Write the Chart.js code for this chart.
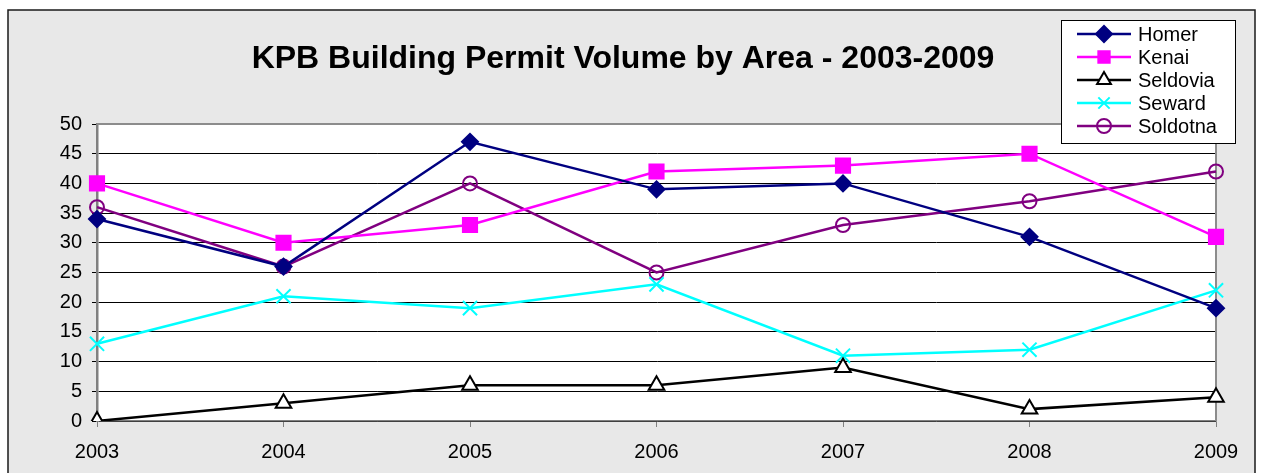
<!DOCTYPE html>
<html lang="en">
<head>
  <meta charset="UTF-8">
  <title>KPB Building Permit Volume by Area - 2003-2009</title>
  <script src="https://cdn.jsdelivr.net/npm/chart.js"></script>
  <style>
    html, body { margin: 0; padding: 0; background: #fff; overflow: hidden; }
    #grafico { display: block; }
  </style>
</head>
<body>
  <canvas id="grafico" width="1263" height="473"></canvas>

<script>
  // data
  const anos = ['2003', '2004', '2005', '2006', '2007', '2008', '2009'];
  const homer = [34, 26, 47, 39, 40, 31, 19];
  const kenai = [40, 30, 33, 42, 43, 45, 31];
  const seldovia = [0, 3, 6, 6, 9, 2, 4];
  const seward = [13, 21, 19, 23, 11, 12, 22];
  const soldotna = [36, 26, 40, 25, 33, 37, 42];
  const titulo = 'KPB Building Permit Volume by Area - 2003-2009';

  const fonte = "'Liberation Sans', Arial, sans-serif";

  function serie(label, data, cor, estilo, raio, fundo) {
    return {
      label: label,
      data: data,
      borderColor: cor,
      borderWidth: 2.5,
      tension: 0,
      pointStyle: estilo,
      pointRadius: raio,
      pointHoverRadius: raio,
      pointBackgroundColor: fundo,
      pointBorderColor: cor,
      pointBorderWidth: 2
    };
  }

  const dados = {
    labels: anos,
    datasets: [
      serie('Homer', homer, '#000080', 'rectRot', 8, '#000080'),
      serie('Kenai', kenai, '#ff00ff', 'rect', 10, '#ff00ff'),
      serie('Seldovia', seldovia, '#000000', 'triangle', 9, '#ffffff'),
      serie('Seward', seward, '#00ffff', 'crossRot', 10, '#00ffff'),
      serie('Soldotna', soldotna, '#800080', 'circle', 7, 'rgba(0,0,0,0)')
    ]
  };

  // moldura cinza, fundo branco da area do grafico e titulo
  const moldura = {
    id: 'moldura',
    beforeDraw(chart) {
      const ctx = chart.ctx;
      ctx.save();
      ctx.fillStyle = '#e8e8e8';
      ctx.fillRect(8, 10, 1247, 470);
      ctx.strokeStyle = '#1a1a1a';
      ctx.lineWidth = 1.5;
      ctx.strokeRect(8, 10, 1247, 470);
      const a = chart.chartArea;
      ctx.fillStyle = '#ffffff';
      ctx.fillRect(a.left, a.top, a.right - a.left, a.bottom - a.top);
      ctx.restore();
    },
    beforeDatasetsDraw(chart) {
      const ctx = chart.ctx;
      const a = chart.chartArea;
      ctx.save();
      ctx.strokeStyle = '#8c8c8c';
      ctx.lineWidth = 2;
      ctx.beginPath();
      ctx.moveTo(a.left, a.top);
      ctx.lineTo(a.right, a.top);
      ctx.lineTo(a.right, a.bottom);
      ctx.stroke();
      ctx.restore();
    },
    afterDraw(chart) {
      const ctx = chart.ctx;
      ctx.save();
      ctx.fillStyle = '#000';
      ctx.font = 'bold 32px ' + fonte;
      ctx.textAlign = 'center';
      ctx.textBaseline = 'middle';
      ctx.fillText(titulo, 623, 59);
      ctx.restore();
    }
  };

  // legenda no canto superior direito, com linha + marcador
  const legenda = {
    id: 'legenda',
    afterDraw(chart) {
      const ctx = chart.ctx;
      const x0 = 1061, y0 = 20, w = 174, h = 123;
      ctx.save();
      ctx.fillStyle = '#fff';
      ctx.fillRect(x0, y0, w, h);
      ctx.strokeStyle = '#000';
      ctx.lineWidth = 1;
      ctx.strokeRect(x0 + 0.5, y0 + 0.5, w, h);
      chart.data.datasets.forEach(function (ds, i) {
        const y = 34 + i * 23;
        ctx.strokeStyle = ds.borderColor;
        ctx.lineWidth = ds.borderWidth;
        ctx.beginPath();
        ctx.moveTo(1077, y);
        ctx.lineTo(1131, y);
        ctx.stroke();
        ctx.fillStyle = ds.pointBackgroundColor;
        ctx.strokeStyle = ds.pointBorderColor;
        ctx.lineWidth = ds.pointBorderWidth;
        Chart.helpers.drawPoint(ctx, {
          pointStyle: ds.pointStyle,
          radius: Math.min(ds.pointRadius, 8),
          rotation: 0,
          borderWidth: ds.pointBorderWidth
        }, 1104, y);
        ctx.fillStyle = '#000';
        ctx.font = '20px ' + fonte;
        ctx.textAlign = 'left';
        ctx.textBaseline = 'middle';
        ctx.fillText(ds.label, 1138, y + 1);
      });
      ctx.restore();
    }
  };

  const config = {
    type: 'line',
    data: dados,
    options: {
      responsive: false,
      animation: false,
      devicePixelRatio: 1,
      layout: { padding: { left: 0, top: 124, right: 47, bottom: 12 } },
      plugins: {
        legend: { display: false },
        title: { display: false },
        tooltip: { enabled: false }
      },
      scales: {
        x: {
          offset: false,
          grid: {
            drawOnChartArea: false,
            drawTicks: true,
            tickLength: 6,
            color: '#808080'
          },
          border: { color: '#808080', width: 1.5 },
          ticks: {
            color: '#000',
            font: { family: fonte, size: 20 },
            padding: 13,
            maxRotation: 0
          },
          afterFit(scale) { scale.height = 40; }
        },
        y: {
          min: 0,
          max: 50,
          grid: {
            color: '#000',
            lineWidth: 1,
            tickLength: 5
          },
          border: { color: '#808080', width: 2.5 },
          ticks: {
            stepSize: 5,
            color: '#000',
            font: { family: fonte, size: 20 },
            padding: 10
          },
          afterFit(scale) { scale.width = 97; }
        }
      }
    },
    plugins: [moldura, legenda]
  };

  new Chart(document.getElementById('grafico'), config);
</script>
</body>
</html>
